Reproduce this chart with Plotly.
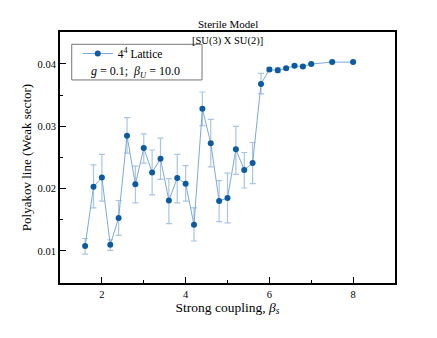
import plotly.graph_objects as go

beta_s = [1.6, 1.8, 2.0, 2.2, 2.4, 2.6, 2.8, 3.0, 3.2, 3.4, 3.6, 3.8, 4.0, 4.2, 4.4, 4.6,
          4.8, 5.0, 5.2, 5.4, 5.6, 5.8, 6.0, 6.2, 6.4, 6.6, 6.8, 7.0, 7.5, 8.0]
polyakov = [0.0108, 0.0203, 0.0218, 0.0110, 0.0153, 0.0285, 0.0207, 0.0265, 0.0226, 0.0248,
            0.0181, 0.0217, 0.0208, 0.0142, 0.0328, 0.0273, 0.0180, 0.0185, 0.0263, 0.0230,
            0.0241, 0.0368, 0.0391, 0.0390, 0.0393, 0.0397, 0.0396, 0.0400, 0.0403, 0.0403]
err_up = [0.0012, 0.0035, 0.0037, 0.0008, 0.0028, 0.0029, 0.0029, 0.0023, 0.0036, 0.0033,
          0.0035, 0.0038, 0.0029, 0.0027, 0.0027, 0.0038, 0.0033, 0.0040, 0.0037, 0.0028,
          0.0033, 0.0017, 0.0003, 0.0004, 0.0002, 0.0002, 0.0002, 0.0001, 0.0001, 0.0001]
err_down = [0.0013, 0.0034, 0.0038, 0.0009, 0.0028, 0.0028, 0.0030, 0.0024, 0.0036, 0.0033,
            0.0037, 0.0040, 0.0028, 0.0026, 0.0027, 0.0038, 0.0033, 0.0040, 0.0040, 0.0029,
            0.0033, 0.0016, 0.0003, 0.0004, 0.0002, 0.0002, 0.0002, 0.0001, 0.0001, 0.0001]

FONT = "Liberation Serif"

fig = go.Figure()
fig.add_trace(go.Scatter(
    x=beta_s, y=polyakov, mode="lines+markers",
    name="4<sup>4</sup> Lattice",
    line=dict(color="rgba(110,160,215,0.9)", width=1),
    marker=dict(color="#0b5aa2", size=6),
    error_y=dict(type="data", array=err_up, arrayminus=err_down, visible=True,
                 color="rgba(110,160,210,0.6)", thickness=1.2, width=3),
))

fig.update_layout(
    width=437, height=338,
    margin=dict(l=52, r=50, t=24, b=63),
    plot_bgcolor="white", paper_bgcolor="white",
    font=dict(family=FONT, size=11, color="black"),
    showlegend=True,
    legend=dict(x=0.053, y=0.972, xanchor="left", yanchor="top",
                bgcolor="rgba(0,0,0,0)", borderwidth=0,
                font=dict(family=FONT, size=11.5), itemwidth=30,
                tracegroupgap=0),
)

fig.update_xaxes(range=[1, 9], tickvals=[2, 4, 6, 8], ticks="inside", ticklen=6,
                 tickcolor="black", showgrid=False, zeroline=False,
                 showline=True, linecolor="black", linewidth=2, mirror=True,
                 minor=dict(tickvals=[3, 5, 7], ticks="inside", ticklen=3, tickcolor="black"),
                 title=dict(text="Strong coupling, <i>β<sub>s</sub></i>", font=dict(size=13.5), standoff=1),
                 tickfont=dict(family=FONT, size=10.5))
fig.update_yaxes(range=[0.00486, 0.04513], tickvals=[0.01, 0.02, 0.03, 0.04],
                 tickformat=".2f", ticks="inside", ticklen=6, tickcolor="black",
                 showgrid=False, zeroline=False,
                 showline=True, linecolor="black", linewidth=2, mirror=True,
                 minor=dict(tickvals=[0.015, 0.025, 0.035], ticks="inside", ticklen=3, tickcolor="black"),
                 title=dict(text="Polyakov line (Weak sector)", font=dict(size=13), standoff=3),
                 tickfont=dict(family=FONT, size=10.5))

# legend frame
fig.add_shape(type="rect", xref="paper", yref="paper", x0=0.035, x1=0.424, y0=0.809, y1=0.951,
              line=dict(color="#777777", width=1), fillcolor="white", layer="below")
fig.add_annotation(xref="paper", yref="paper", x=0.225, y=0.842, xanchor="center", yanchor="middle",
                   text="<i>g</i> = 0.1;  <i>β<sub>U</sub></i> = 10.0",
                   showarrow=False, font=dict(family=FONT, size=12))

fig.add_annotation(xref="paper", yref="paper", x=0.5, y=1.0, xanchor="center", yanchor="bottom", yshift=0,
                   text="Sterile Model", showarrow=False, font=dict(family=FONT, size=11))
fig.add_annotation(xref="paper", yref="paper", x=0.5, y=1.0, xanchor="center", yanchor="top", yshift=-1,
                   text="[SU(3) X SU(2)]", showarrow=False, font=dict(family=FONT, size=10.5))

fig.write_html("out.html")
